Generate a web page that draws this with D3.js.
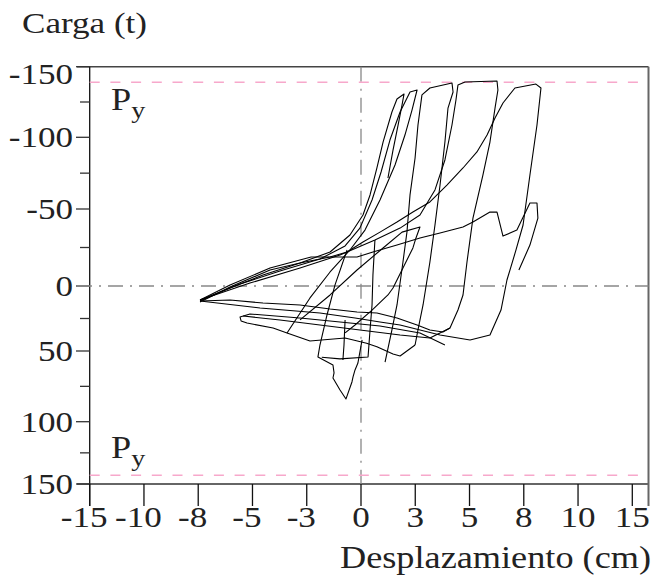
<!DOCTYPE html>
<html>
<head>
<meta charset="utf-8">
<script src="https://cdn.jsdelivr.net/npm/d3@7"></script>
<style>
  body { margin: 0; background: #fff; }
</style>
</head>
<body>
<div id="chart"></div>
<script>
const width = 653;
const height = 578;

// axis ticks, labels as printed in the original figure
const xTicks = [-15, -12, -9, -6, -3, 0, 3, 6, 9, 12, 15];
const xTickLabels = ["-15", "-10", "-8", "-5", "-3", "0", "3", "5", "8", "10", "15"];
const yTicks = [-150, -100, -50, 0, 50, 100, 150];
const yMinorTicks = [-125, -75, -25, 25, 75, 125];
const yieldLoads = [-139, 143];

// hysteresis branches: [displacement, load]
const cycle1 = [[1.49,-71.6],[1.77,-91.1],[2.05,-108.7],[2.27,-122.9],[2.38,-130.7],[1.99,-127.1],[1.71,-117.9],
  [1.22,-96.7],[0.88,-78.6],[0.50,-59.8],[0.11,-46.1],[-0.61,-33.1],[-1.71,-22.1],[-3.37,-14.9],[-5.42,-7.1],
  [-7.24,1.5],[-8.90,11.5]];
const cycle2 = [[-8.90,10.8],[-6.69,-1.3],[-4.48,-9.7],[-2.27,-17.5],[-0.88,-26.0],[-0.06,-37.6],[0.61,-56.3],
  [1.11,-75.8],[1.60,-98.1],[2.16,-117.9],[2.71,-132.1],[3.10,-133.5],[2.82,-119.3],[2.43,-101.6],[1.88,-80.7],
  [1.05,-56.3],[0.22,-36.3],[-0.61,-23.4],[-1.71,-9.1],[-2.82,9.2],[-4.09,36.1],[-4.86,32.3],[-6.30,28.5],
  [-6.63,26.9],[-6.69,23.8],[-6.14,21.5],[-3.37,24.6],[-1.16,27.7],[1.05,30.8],[3.26,36.1],[4.64,45.4]];
const cycle3 = [[1.33,57.8],[1.71,33.8],[1.99,14.6],[2.32,-15.6],[2.54,-35.0],[2.71,-59.8],[2.99,-85.6],
  [3.15,-108.7],[3.37,-130.0],[3.81,-134.9],[5.03,-138.5],[5.09,-132.1],[4.81,-120.7],[4.64,-96.7],[4.37,-66.7],
  [4.09,-39.6],[3.81,-15.6],[3.43,14.6],[3.15,33.8],[2.99,45.4]];
const cycle4 = [[-8.90,10.8],[-6.14,-1.9],[-3.37,-11.7],[-1.16,-20.1],[0.77,-29.9],[2.16,-37.6],[3.26,-46.1],
  [4.09,-63.3],[4.64,-84.2],[5.03,-108.7],[5.25,-126.4],[5.36,-137.0],[5.75,-139.2],[7.52,-139.9],[7.57,-133.5],
  [7.41,-120.7],[7.13,-96.7],[6.74,-73.7],[6.19,-44.1],[5.86,-15.6],[5.64,6.9],[5.36,18.5],[4.92,32.3],
  [3.81,40.0],[2.16,37.7],[-0.06,33.8],[-2.27,30.0],[-4.48,26.1],[-6.52,23.1]];
const cycle5 = [[-8.90,11.5],[-5.58,16.9],[-2.27,20.8],[-0.33,24.6],[1.05,27.7],[2.16,30.0],[4.37,37.7],
  [6.03,41.5],[7.13,37.7],[7.74,18.5],[8.07,-3.9],[8.57,-23.4],[8.96,-39.6],[9.34,-73.7],[9.73,-108.7],
  [9.95,-134.9],[9.67,-137.7],[8.51,-134.9],[7.85,-124.3],[7.41,-113.7],[6.97,-101.6],[6.41,-89.8],
  [5.64,-78.6],[4.75,-66.7],[3.81,-54.9],[2.87,-48.0],[1.99,-41.5],[1.05,-35.0],[0.11,-28.6],[-0.77,-22.1],
  [-1.71,-18.8],[-3.37,-14.9],[-5.03,-10.4],[-7.24,0.8],[-8.90,12.3]];
const lastBranch = [[-8.90,10.8],[-7.24,-0.6],[-5.03,-11.7],[-2.76,-18.8],[-0.22,-18.8],[0.66,-22.1],
  [1.99,-26.6],[3.26,-31.2],[4.37,-34.4],[5.64,-38.3],[6.19,-41.5],[7.13,-48.0],[7.52,-48.0],[7.85,-32.4],
  [8.62,-36.3],[9.34,-54.2],[9.73,-54.2],[9.78,-44.1],[9.34,-26.6],[8.73,-10.4]];
const smallCycle = [[-3.37,26.1],[-1.71,6.9],[-0.22,-10.4],[1.22,-24.7],[2.27,-35.0],[3.26,-38.3],[3.04,-31.2],
  [2.87,-24.7],[2.32,-11.7],[1.77,1.5],[1.49,6.9],[0.61,18.5],[-0.33,30.0],[-0.88,36.1]];
const dropBranch = [[-0.77,-23.4],[-1.44,-0.6],[-1.88,22.3],[-2.27,45.4],[-2.38,54.2],[-1.55,59.9],
  [-1.49,65.5],[-1.55,69.1],[-1.16,77.6],[-0.83,83.9],[-0.50,71.9],[-0.44,68.3],[-0.33,63.4],[-0.17,58.5],
  [0.06,41.5]];
const returnCurve = [[-8.90,11.5],[-7.24,10.8],[-5.42,13.1],[-3.37,14.6],[-1.71,17.7],[-0.22,20.0],
  [0.88,20.8],[1.99,24.6],[3.10,30.0],[3.81,33.8],[4.53,35.4],[4.92,32.3]];
const unload6 = [[0.77,-29.9],[0.66,-7.1],[0.61,14.6],[0.50,33.8],[0.39,54.2],[-1.16,55.6],[-2.17,54.4]];
const unload7 = [[-0.88,26.1],[-0.94,45.4],[-1.00,56.4]];
const lowerBand = [[-4.09,36.1],[-2.82,42.3],[-0.88,40.0],[0.31,44.1],[0.88,46.7],[1.77,52.1],[2.16,53.5],
  [2.99,45.4]];

const branches = [cycle1, cycle2, cycle3, cycle4, cycle5, lastBranch, smallCycle, dropBranch,
  returnCurve, unload6, unload7, lowerBand];

const margin = { left: 89.7, right: 648.5, top: 66.7, bottom: 484 };
const stretch = 1.17;  // the figure's lettering is wider than Times
const serif = "'Liberation Serif', 'Times New Roman', Times, serif";

const svg = d3.select("#chart")
  .append("svg")
  .attr("width", width)
  .attr("height", height)
  .style("background", "#fff");

const x = d3.scaleLinear()
  .domain([-15, 15])
  .range([margin.left, 632.3]);

const y = d3.scaleLinear()
  .domain(yTicks)
  .range([66.7, 137.3, 209, 286, 351, 421.7, 484]);

function label(str, px, py, anchor, size) {
  const g = svg.append("g").attr("transform", `translate(${px},${py}) scale(${stretch},1)`);
  return g.append("text")
    .attr("text-anchor", anchor || "start")
    .attr("font-family", serif)
    .attr("font-size", size || 30)
    .attr("fill", "#222")
    .text(str);
}

// frame
svg.append("line")
  .attr("x1", 77).attr("x2", margin.right)
  .attr("y1", margin.top).attr("y2", margin.top)
  .attr("stroke", "#444").attr("stroke-width", 1.5);
svg.append("line")
  .attr("x1", 77).attr("x2", margin.right)
  .attr("y1", margin.bottom).attr("y2", margin.bottom)
  .attr("stroke", "#333").attr("stroke-width", 1.5);
svg.append("line")
  .attr("x1", margin.right).attr("x2", margin.right)
  .attr("y1", margin.top).attr("y2", 506)
  .attr("stroke", "#666").attr("stroke-width", 2);
svg.append("line")
  .attr("x1", margin.left).attr("x2", margin.left)
  .attr("y1", margin.top).attr("y2", 506)
  .attr("stroke", "#111").attr("stroke-width", 1.3);

// y ticks
svg.selectAll(".ytick")
  .data(yTicks)
  .enter().append("line")
  .attr("x1", 76).attr("x2", margin.left)
  .attr("y1", d => y(d)).attr("y2", d => y(d))
  .attr("stroke", "#333").attr("stroke-width", 1.3);
svg.selectAll(".yminor")
  .data(yMinorTicks)
  .enter().append("line")
  .attr("x1", 80).attr("x2", margin.left)
  .attr("y1", d => y(d)).attr("y2", d => y(d))
  .attr("stroke", "#333").attr("stroke-width", 1.3);

yTicks.forEach((d, i) => {
  const py = i === 0 ? y(d) + 7 : y(d);
  label(d, 73, py + 10, "end");
});

// x ticks
svg.selectAll(".xtick")
  .data(xTicks)
  .enter().append("line")
  .attr("x1", d => x(d)).attr("x2", d => x(d))
  .attr("y1", margin.bottom).attr("y2", 506)
  .attr("stroke", "#111").attr("stroke-width", 1.3);

xTicks.forEach((d, i) => {
  const s = xTickLabels[i];
  const shift = s.startsWith("-") ? -5.5 : 0;
  label(s, x(d) + shift, 527, "middle");
});

// zero lines
svg.append("line")
  .attr("x1", 77).attr("x2", margin.right)
  .attr("y1", y(0)).attr("y2", y(0))
  .attr("stroke", "#888").attr("stroke-width", 1.3)
  .attr("stroke-dasharray", "15,7,2,7");
svg.append("line")
  .attr("x1", x(0)).attr("x2", x(0))
  .attr("y1", margin.top).attr("y2", margin.bottom)
  .attr("stroke", "#888").attr("stroke-width", 1.3)
  .attr("stroke-dasharray", "15,7,2,7");

// yield load lines
svg.selectAll(".yield")
  .data(yieldLoads)
  .enter().append("line")
  .attr("x1", margin.left).attr("x2", margin.right)
  .attr("y1", d => y(d)).attr("y2", d => y(d))
  .attr("stroke", "#f7a8cb").attr("stroke-width", 1.5)
  .attr("stroke-dasharray", "10,10.7");

function pyLabel(py) {
  const t = label("P", 111, py, "start", 31);
  t.append("tspan")
    .attr("dy", 8)
    .attr("font-size", 24)
    .text("y");
}
pyLabel(110);
pyLabel(458);

// hysteresis curves
const line = d3.line()
  .x(d => x(d[0]))
  .y(d => y(d[1]));

svg.selectAll(".branch")
  .data(branches)
  .enter().append("path")
  .attr("class", "branch")
  .attr("d", line)
  .attr("fill", "none")
  .attr("stroke", "#000")
  .attr("stroke-width", 1.1)
  .attr("stroke-linejoin", "round");

// axis titles
label("Carga (t)", 22, 33, "start", 30);
label("Desplazamiento (cm)", 651, 568, "end", 31);
</script>
</body>
</html>
